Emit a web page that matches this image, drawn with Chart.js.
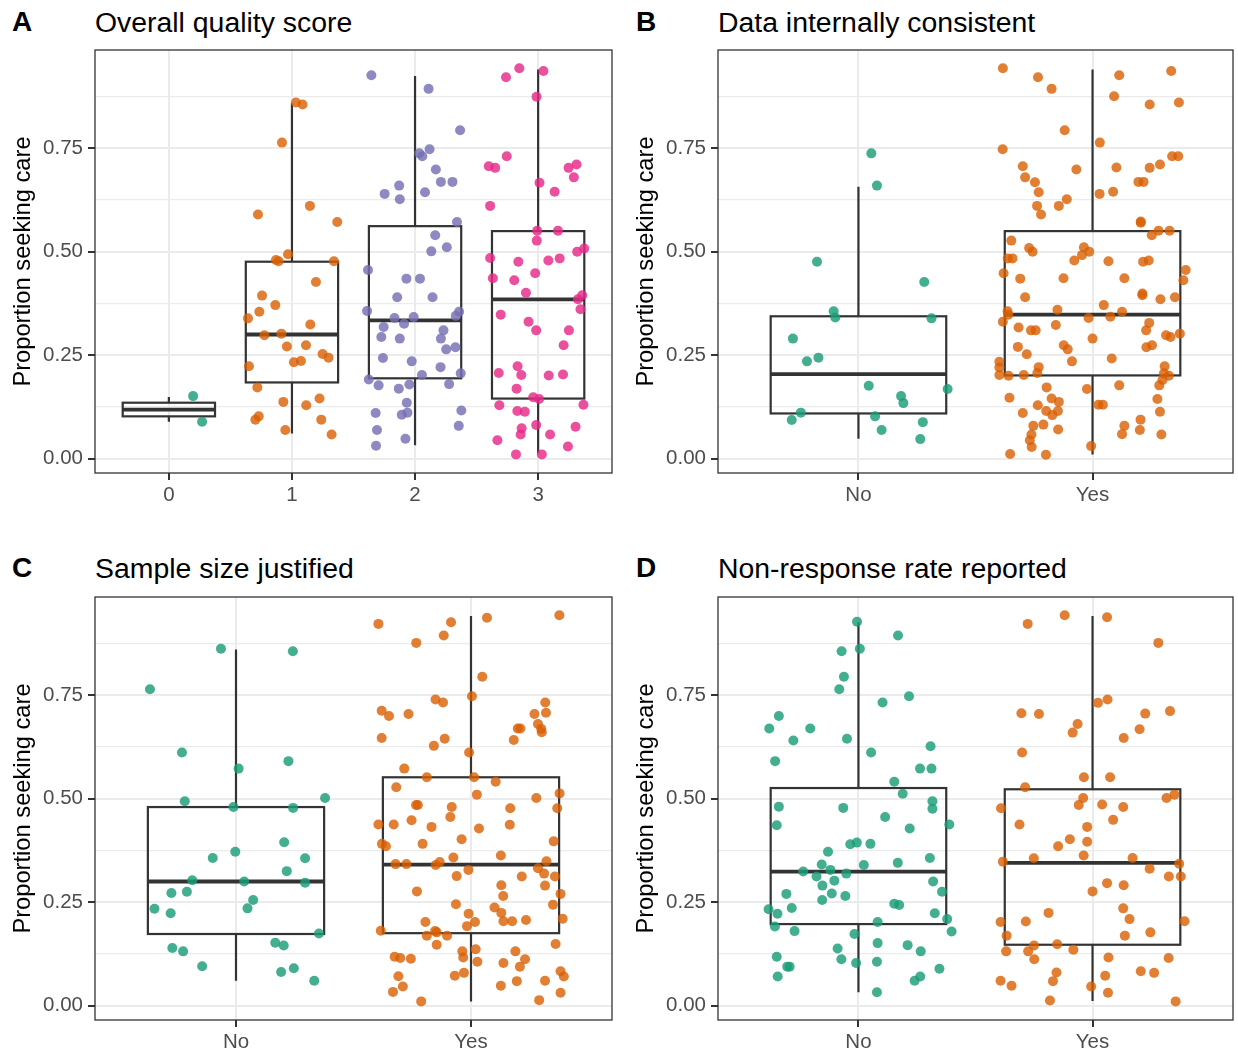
<!DOCTYPE html>
<html>
<head>
<meta charset="utf-8">
<script src="https://cdn.jsdelivr.net/npm/chart.js"></script>
<style>
  body { margin: 0; background: #fff; width: 1238px; height: 1052px; position: relative; overflow: hidden;
         font-family: "Liberation Sans", Arial, sans-serif; }
  .panel { position: absolute; width: 619px; height: 526px; }
  .tag { position: absolute; font-weight: bold; font-size: 28px; line-height: 28px; color: #000; }
  .title { position: absolute; font-size: 28.4px; line-height: 28px; color: #000; }
</style>
</head>
<body>
<div class="tag" style="left:12px;top:8px">A</div>
<div class="title" style="left:95px;top:8px">Overall quality score</div>
<div class="tag" style="left:636px;top:8px">B</div>
<div class="title" style="left:718px;top:8px">Data internally consistent</div>
<div class="tag" style="left:12px;top:554px">C</div>
<div class="title" style="left:95px;top:554px">Sample size justified</div>
<div class="tag" style="left:636px;top:554px">D</div>
<div class="title" style="left:718px;top:554px">Non-response rate reported</div>

<div class="panel" style="left:0;top:0"><canvas id="chartA" width="619" height="526"></canvas></div>
<div class="panel" style="left:619px;top:0"><canvas id="chartB" width="619" height="526"></canvas></div>
<div class="panel" style="left:0;top:526px"><canvas id="chartC" width="619" height="526"></canvas></div>
<div class="panel" style="left:619px;top:526px"><canvas id="chartD" width="619" height="526"></canvas></div>

<script>
// categories and axis labels
const scoreLabels = ["0", "1", "2", "3"];
const yesNoLabels = ["No", "Yes"];
const yTickVals = [0, 0.25, 0.5, 0.75];
const yTickLabels = ["0.00", "0.25", "0.50", "0.75"];
const yMinorVals = [0.125, 0.375, 0.625, 0.875];
const yAxisTitle = "Proportion seeking care";

// Dark2 colours
const green = "rgba(27,158,119,0.82)";
const orange = "rgba(217,95,2,0.8)";
const purple = "rgba(117,112,179,0.82)";
const magenta = "rgba(231,41,138,0.82)";

// A: overall quality score
const score0Vals = [0.151, 0.089];
const score0Jit = [0.197, 0.270];
const score1Vals = [0.861, 0.856, 0.764, 0.590, 0.611, 0.572, 0.494, 0.480, 0.477, 0.477, 0.427, 0.394, 0.371, 0.355, 0.339, 0.324, 0.298, 0.302, 0.271, 0.274, 0.253, 0.244, 0.233, 0.236, 0.223, 0.172, 0.137, 0.129, 0.145, 0.102, 0.094, 0.069, 0.094, 0.058];
const score1Jit = [0.032, 0.086, -0.081, -0.276, 0.146, 0.368, -0.032, -0.130, -0.108, 0.341, 0.195, -0.243, -0.135, -0.265, -0.357, 0.149, -0.224, -0.086, -0.041, 0.114, 0.249, 0.297, 0.016, 0.073, -0.349, -0.281, -0.070, 0.116, 0.224, -0.270, -0.297, -0.054, 0.238, 0.322];
const score2Vals = [0.927, 0.894, 0.794, 0.738, 0.731, 0.748, 0.699, 0.660, 0.640, 0.627, 0.644, 0.669, 0.669, 0.572, 0.540, 0.501, 0.511, 0.456, 0.435, 0.435, 0.390, 0.390, 0.357, 0.340, 0.342, 0.326, 0.318, 0.294, 0.290, 0.310, 0.290, 0.345, 0.355, 0.264, 0.269, 0.243, 0.235, 0.221, 0.202, 0.206, 0.191, 0.177, 0.169, 0.179, 0.180, 0.135, 0.106, 0.111, 0.110, 0.116, 0.079, 0.069, 0.048, 0.031];
const score2Jit = [-0.355, 0.110, 0.366, 0.035, 0.059, 0.118, 0.169, -0.129, -0.247, -0.124, 0.081, 0.210, 0.304, 0.341, 0.164, 0.132, 0.258, -0.382, -0.070, 0.040, -0.145, 0.142, -0.390, -0.167, -0.011, -0.089, -0.255, -0.274, -0.124, 0.231, 0.210, 0.331, 0.358, 0.253, 0.328, -0.261, -0.027, 0.207, 0.056, 0.371, -0.376, -0.296, -0.132, -0.046, 0.277, -0.067, -0.108, -0.062, -0.320, 0.376, 0.355, -0.309, -0.078, -0.317];
const score3Vals = [0.944, 0.922, 0.937, 0.875, 0.731, 0.707, 0.703, 0.703, 0.711, 0.680, 0.667, 0.645, 0.611, 0.551, 0.551, 0.527, 0.485, 0.476, 0.479, 0.484, 0.500, 0.508, 0.436, 0.431, 0.448, 0.401, 0.385, 0.395, 0.361, 0.348, 0.331, 0.310, 0.310, 0.274, 0.207, 0.223, 0.202, 0.201, 0.203, 0.169, 0.148, 0.144, 0.129, 0.130, 0.115, 0.113, 0.081, 0.073, 0.058, 0.077, 0.058, 0.044, 0.029, 0.010, 0.010];
const score3Jit = [-0.153, -0.261, 0.043, -0.013, -0.255, -0.401, -0.349, 0.247, 0.312, 0.290, 0.011, 0.134, -0.390, -0.008, 0.161, -0.011, -0.390, -0.161, 0.083, 0.175, 0.317, 0.374, -0.368, -0.194, -0.024, -0.099, 0.323, 0.358, 0.344, -0.304, -0.078, -0.016, 0.250, 0.207, -0.320, -0.167, -0.137, 0.086, 0.202, -0.175, -0.040, 0.008, -0.315, 0.368, -0.169, -0.108, -0.016, -0.134, -0.142, 0.304, 0.097, -0.331, 0.242, -0.180, 0.030];
// box stats: lower whisker, q1, median, q3, upper whisker
const scoreBoxes = [[0.089, 0.102, 0.1185, 0.135, 0.149], [0.0605, 0.184, 0.300, 0.476, 0.859], [0.032, 0.194, 0.334, 0.562, 0.925], [0.012, 0.145, 0.385, 0.550, 0.941]];

// B: data internally consistent
const consNoVals = [0.738, 0.660, 0.476, 0.427, 0.356, 0.341, 0.339, 0.290, 0.244, 0.235, 0.176, 0.168, 0.151, 0.134, 0.111, 0.093, 0.102, 0.088, 0.069, 0.047];
const consNoJit = [0.055, 0.079, -0.177, 0.281, -0.106, -0.099, 0.312, -0.280, -0.171, -0.220, 0.044, 0.381, 0.182, 0.192, -0.246, -0.285, 0.071, 0.275, 0.099, 0.264];
const consYesVals = [0.944, 0.922, 0.894, 0.927, 0.937, 0.876, 0.856, 0.861, 0.794, 0.764,
  0.748, 0.731, 0.731, 0.707, 0.699, 0.704, 0.703, 0.711, 0.680, 0.668,
  0.669, 0.669, 0.644, 0.640, 0.645, 0.627, 0.611, 0.611, 0.590, 0.573,
  0.570, 0.540, 0.551, 0.551, 0.527, 0.509, 0.500, 0.484, 0.484, 0.511,
  0.492, 0.500, 0.479, 0.477, 0.476, 0.479, 0.448, 0.435, 0.436, 0.436,
  0.456, 0.431, 0.390, 0.399, 0.395, 0.385, 0.390, 0.371, 0.360, 0.356,
  0.348, 0.355, 0.343, 0.340, 0.331, 0.317, 0.310, 0.310, 0.323, 0.328,
  0.310, 0.290, 0.298, 0.294, 0.302, 0.270, 0.252, 0.274, 0.264, 0.235,
  0.242, 0.269, 0.274, 0.234, 0.220, 0.202, 0.200, 0.202, 0.221, 0.207,
  0.223, 0.206, 0.200, 0.190, 0.177, 0.172, 0.168, 0.177, 0.147, 0.129,
  0.145, 0.137, 0.115, 0.115, 0.105, 0.110, 0.130, 0.130, 0.144, 0.113,
  0.079, 0.082, 0.070, 0.058, 0.044, 0.028, 0.011, 0.009, 0.030, 0.079,
  0.059, 0.094, 0.069, 0.058];
const consYesJit = [-0.383, -0.233, -0.175, 0.114, 0.336, 0.092, 0.244, 0.369, -0.119, 0.031,
  -0.384, 0.340, 0.366, -0.298, -0.069, 0.102, 0.244, 0.288, -0.288, -0.246,
  0.196, 0.218, -0.230, 0.030, 0.088, -0.110, -0.237, -0.144, -0.220, 0.206,
  0.206, 0.253, 0.282, 0.329, -0.347, -0.271, -0.256, -0.362, -0.342, -0.037,
  -0.045, -0.014, -0.078, 0.068, 0.216, 0.240, -0.380, -0.309, -0.124, 0.136,
  0.398, 0.388, -0.288, 0.213, 0.213, 0.290, 0.352, 0.048, -0.150, -0.363,
  -0.360, 0.126, 0.076, -0.017, -0.383, -0.316, -0.263, -0.243, -0.157, 0.242,
  0.229, 0.000, 0.314, 0.333, 0.373, -0.319, -0.281, -0.123, -0.106, -0.088,
  0.082, 0.230, 0.254, -0.398, -0.398, -0.398, -0.359, -0.294, -0.230, -0.236,
  0.308, 0.305, 0.326, 0.299, 0.285, -0.196, -0.024, 0.114, -0.355, -0.234,
  -0.175, -0.144, -0.198, -0.148, -0.172, -0.298, 0.025, 0.044, 0.277, 0.288,
  -0.253, -0.210, -0.147, -0.261, -0.268, -0.260, -0.352, -0.199, -0.006, 0.136,
  0.126, 0.205, 0.202, 0.294];
const consBoxes = [[0.048, 0.109, 0.204, 0.344, 0.657], [0.0097, 0.201, 0.348, 0.550, 0.941]];

// C: sample size justified
const sizeNoVals = [0.863, 0.857, 0.765, 0.612, 0.591, 0.573, 0.494, 0.502, 0.480, 0.478, 0.395, 0.357, 0.372, 0.356, 0.325, 0.303, 0.300, 0.297, 0.272, 0.275, 0.255, 0.235, 0.234, 0.223, 0.174, 0.152, 0.145, 0.139, 0.131, 0.095, 0.081, 0.090, 0.060];
const sizeNoJit = [-0.064, 0.242, -0.366, -0.230, 0.223, 0.011, -0.218, 0.379, -0.011, 0.243, 0.205, -0.099, -0.003, 0.294, 0.216, -0.186, 0.035, 0.294, -0.275, -0.209, 0.073, 0.049, -0.347, -0.278, 0.353, 0.167, 0.203, -0.271, -0.225, -0.144, 0.192, 0.246, 0.333];
const sizeYesVals = [0.923, 0.927, 0.895, 0.938, 0.944, 0.877, 0.795, 0.748, 0.740, 0.733,
  0.713, 0.700, 0.705, 0.733, 0.708, 0.705, 0.681, 0.669, 0.661, 0.670,
  0.670, 0.642, 0.647, 0.628, 0.645, 0.612, 0.573, 0.552, 0.552, 0.541,
  0.528, 0.510, 0.502, 0.513, 0.485, 0.485, 0.480, 0.477, 0.477, 0.456,
  0.438, 0.438, 0.448, 0.432, 0.428, 0.437, 0.391, 0.385, 0.391, 0.402,
  0.397, 0.363, 0.358, 0.342, 0.342, 0.340, 0.347, 0.328, 0.313, 0.312,
  0.349, 0.332, 0.319, 0.312, 0.290, 0.291, 0.265, 0.276, 0.270, 0.244,
  0.245, 0.237, 0.224, 0.222, 0.204, 0.204, 0.207, 0.210, 0.202, 0.192,
  0.202, 0.181, 0.180, 0.177, 0.169, 0.169, 0.147, 0.149, 0.131, 0.136,
  0.116, 0.106, 0.131, 0.112, 0.094, 0.103, 0.118, 0.115, 0.113, 0.071,
  0.046, 0.033, 0.010, 0.072, 0.079, 0.048, 0.059, 0.013, 0.060, 0.083,
  0.070, 0.031];
const sizeYesJit = [-0.394, -0.085, -0.116, 0.068, 0.376, -0.233, 0.048, 0.004, -0.151, -0.119,
  -0.380, -0.349, -0.266, 0.316, 0.319, 0.270, 0.285, 0.299, 0.301, 0.199,
  0.210, 0.182, -0.380, -0.158, -0.112, -0.008, -0.284, -0.188, 0.013, 0.105,
  -0.318, 0.025, 0.278, 0.377, -0.234, -0.226, -0.082, 0.167, 0.367, -0.088,
  -0.394, -0.329, -0.253, -0.168, 0.034, 0.165, -0.379, -0.362, -0.206, -0.040,
  0.352, 0.127, -0.075, -0.321, -0.275, -0.150, -0.133, -0.011, -0.061, 0.216,
  0.321, 0.285, 0.311, 0.357, 0.315, 0.129, 0.137, -0.230, 0.381, 0.349,
  -0.064, 0.100, 0.129, -0.010, 0.138, 0.175, 0.234, 0.390, 0.017, -0.017,
  -0.194, -0.384, -0.153, -0.146, -0.188, -0.102, -0.146, 0.360, -0.037, 0.020,
  -0.033, 0.027, 0.189, 0.230, 0.208, 0.138, -0.325, -0.301, -0.256, -0.309,
  -0.290, -0.332, -0.212, -0.069, -0.030, 0.127, 0.195, 0.290, 0.315, 0.381,
  0.395, 0.381];
const sizeBoxes = [[0.060, 0.173, 0.300, 0.480, 0.861], [0.010, 0.175, 0.341, 0.552, 0.942]];

// D: non-response rate reported
const nonRespNoVals = [0.928, 0.895, 0.857, 0.863, 0.795, 0.765, 0.748, 0.733, 0.700, 0.670,
  0.670, 0.641, 0.645, 0.612, 0.627, 0.591, 0.573, 0.573, 0.541, 0.512,
  0.494, 0.476, 0.481, 0.478, 0.456, 0.436, 0.428, 0.438, 0.390, 0.394,
  0.391, 0.372, 0.357, 0.345, 0.341, 0.328, 0.324, 0.319, 0.340, 0.312,
  0.302, 0.290, 0.300, 0.275, 0.270, 0.271, 0.265, 0.255, 0.246, 0.243,
  0.236, 0.233, 0.222, 0.223, 0.209, 0.191, 0.202, 0.180, 0.179, 0.173,
  0.151, 0.146, 0.131, 0.138, 0.112, 0.103, 0.106, 0.118, 0.094, 0.094,
  0.070, 0.089, 0.070, 0.060, 0.032];
const nonRespNoJit = [-0.006, 0.169, -0.072, 0.006, -0.062, -0.082, 0.216, 0.103, -0.340, -0.381,
  -0.206, -0.278, -0.049, 0.054, 0.308, -0.356, 0.263, 0.312, 0.153, 0.189,
  0.316, 0.316, -0.340, -0.065, 0.114, -0.349, 0.219, 0.388, -0.035, -0.007,
  0.051, -0.130, 0.305, 0.168, -0.157, -0.120, -0.236, -0.052, 0.023, -0.179,
  -0.103, -0.154, 0.319, 0.357, -0.308, -0.114, -0.056, -0.155, 0.153, 0.174,
  -0.285, -0.384, -0.346, 0.326, 0.379, -0.357, 0.082, -0.273, 0.398, -0.017,
  0.082, 0.210, 0.266, -0.089, -0.073, -0.010, 0.079, -0.349, -0.304, -0.294,
  -0.345, 0.346, 0.264, 0.240, 0.079];
const nonRespYesVals = [0.923, 0.944, 0.939, 0.877, 0.732, 0.740, 0.707, 0.705, 0.706, 0.712,
  0.681, 0.660, 0.668, 0.647, 0.612, 0.552, 0.552, 0.528, 0.502, 0.510,
  0.502, 0.485, 0.486, 0.480, 0.477, 0.449, 0.438, 0.432, 0.402, 0.396,
  0.385, 0.363, 0.348, 0.356, 0.357, 0.343, 0.331, 0.312, 0.312, 0.296,
  0.291, 0.276, 0.235, 0.209, 0.224, 0.202, 0.203, 0.204, 0.177, 0.169,
  0.169, 0.145, 0.148, 0.135, 0.131, 0.131, 0.112, 0.116, 0.115, 0.080,
  0.059, 0.072, 0.083, 0.079, 0.060, 0.048, 0.046, 0.031, 0.012, 0.010];
const nonRespYesJit = [-0.277, -0.119, 0.062, 0.281, 0.023, 0.064, -0.304, -0.229, 0.225, 0.331,
  -0.064, -0.085, 0.201, 0.133, -0.301, -0.037, 0.075, -0.288, 0.316, 0.350,
  -0.040, -0.059, 0.041, 0.131, -0.391, 0.088, -0.312, -0.023, -0.097, -0.023,
  -0.147, -0.038, -0.383, -0.251, 0.171, 0.370, 0.244, 0.326, 0.377, 0.062,
  0.133, 0.000, 0.131, 0.158, -0.188, -0.393, -0.285, 0.393, 0.247, 0.138,
  -0.367, -0.250, -0.151, -0.082, -0.369, -0.275, -0.249, 0.068, 0.325, -0.154,
  -0.169, 0.054, 0.206, 0.263, -0.393, -0.346, -0.006, 0.066, -0.182, 0.355];
const nonRespBoxes = [[0.032, 0.197, 0.324, 0.526, 0.927], [0.011, 0.147, 0.345, 0.523, 0.942]];

Chart.defaults.font.family = "'Liberation Sans', Arial, sans-serif";
Chart.defaults.animation = false;

const boxHalf = 0.375;

function boxPlugin(stats) {
  return {
    id: "boxes",
    beforeDatasetsDraw(chart) {
      const { ctx, scales: { x, y } } = chart;
      ctx.save();
      ctx.strokeStyle = "#333333";
      stats.forEach((s, i) => {
        const l = x.getPixelForValue(i - boxHalf);
        const r = x.getPixelForValue(i + boxHalf);
        const c = x.getPixelForValue(i);
        const [lo, q1, med, q3, hi] = s.map((v) => y.getPixelForValue(v));
        ctx.lineWidth = 2.2;
        ctx.beginPath();
        ctx.moveTo(c, q3); ctx.lineTo(c, hi);
        ctx.moveTo(c, q1); ctx.lineTo(c, lo);
        ctx.stroke();
        ctx.strokeRect(l, q3, r - l, q1 - q3);
        ctx.lineWidth = 3.8;
        ctx.beginPath();
        ctx.moveTo(l, med); ctx.lineTo(r, med);
        ctx.stroke();
      });
      ctx.restore();
    },
    afterDraw(chart) {
      const { ctx, chartArea: a } = chart;
      ctx.save();
      ctx.strokeStyle = "#333333";
      ctx.lineWidth = 1.3;
      ctx.strokeRect(a.left, a.top, a.right - a.left, a.bottom - a.top);
      ctx.restore();
    }
  };
}

function makePanel(id, cats, groups, boxes, pad, yWidth, xHeight, titlePad) {
  const isMajor = (v) => yTickVals.some((t) => Math.abs(t - v) < 1e-9);
  const datasets = groups.map((g, i) => ({
    data: g.vals.map((v, k) => ({ x: i + g.jit[k], y: v })),
    backgroundColor: g.color,
    borderWidth: 0,
    pointRadius: 5,
    pointHoverRadius: 5
  }));
  return new Chart(document.getElementById(id), {
    type: "scatter",
    data: { datasets },
    options: {
      responsive: false,
      devicePixelRatio: 1,
      events: [],
      layout: { padding: pad },
      plugins: { legend: { display: false }, tooltip: { enabled: false } },
      scales: {
        x: {
          type: "linear",
          min: -0.6,
          max: cats.length - 0.4,
          afterBuildTicks: (s) => { s.ticks = cats.map((_, i) => ({ value: i })); },
          afterFit: (s) => { s.height = xHeight; },
          ticks: {
            autoSkip: false,
            maxRotation: 0,
            padding: 3,
            color: "#4d4d4d",
            font: { size: 20.5 },
            callback: (v) => cats[Math.round(v)]
          },
          grid: { color: "#ebebeb", lineWidth: 2, tickColor: "#333333", tickLength: 7 },
          border: { display: false }
        },
        y: {
          min: -0.035,
          max: 0.988,
          afterBuildTicks: (s) => {
            s.ticks = yTickVals.concat(yMinorVals).sort((a, b) => a - b).map((v) => ({ value: v }));
          },
          afterFit: (s) => { s.width = yWidth; },
          ticks: {
            autoSkip: false,
            padding: 5,
            color: "#4d4d4d",
            font: { size: 20.5 },
            callback: (v) => {
              const k = yTickVals.findIndex((t) => Math.abs(t - v) < 1e-9);
              return k >= 0 ? yTickLabels[k] : "";
            }
          },
          grid: {
            color: "#ebebeb",
            lineWidth: (c) => (isMajor(c.tick.value) ? 2 : 1.2),
            tickColor: (c) => (isMajor(c.tick.value) ? "#333333" : "rgba(0,0,0,0)"),
            tickLength: 7
          },
          border: { display: false },
          title: {
            display: true,
            text: yAxisTitle,
            color: "#000",
            font: { size: 23.7 },
            padding: { top: titlePad, bottom: 0 }
          }
        }
      }
    },
    plugins: [boxPlugin(boxes)]
  });
}

makePanel("chartA", scoreLabels, [
  { vals: score0Vals, jit: score0Jit, color: green },
  { vals: score1Vals, jit: score1Jit, color: orange },
  { vals: score2Vals, jit: score2Jit, color: purple },
  { vals: score3Vals, jit: score3Jit, color: magenta }
], scoreBoxes, { left: 0, top: 50, right: 7, bottom: 0 }, 95, 53, 9);

makePanel("chartB", yesNoLabels, [
  { vals: consNoVals, jit: consNoJit, color: green },
  { vals: consYesVals, jit: consYesJit, color: orange }
], consBoxes, { left: 0, top: 50, right: 1, bottom: 0 }, 99, 53, 13);

makePanel("chartC", yesNoLabels, [
  { vals: sizeNoVals, jit: sizeNoJit, color: green },
  { vals: sizeYesVals, jit: sizeYesJit, color: orange }
], sizeBoxes, { left: 0, top: 71, right: 7, bottom: 0 }, 95, 32, 9);

makePanel("chartD", yesNoLabels, [
  { vals: nonRespNoVals, jit: nonRespNoJit, color: green },
  { vals: nonRespYesVals, jit: nonRespYesJit, color: orange }
], nonRespBoxes, { left: 0, top: 71, right: 1, bottom: 0 }, 99, 32, 13);
</script>
</body>
</html>
